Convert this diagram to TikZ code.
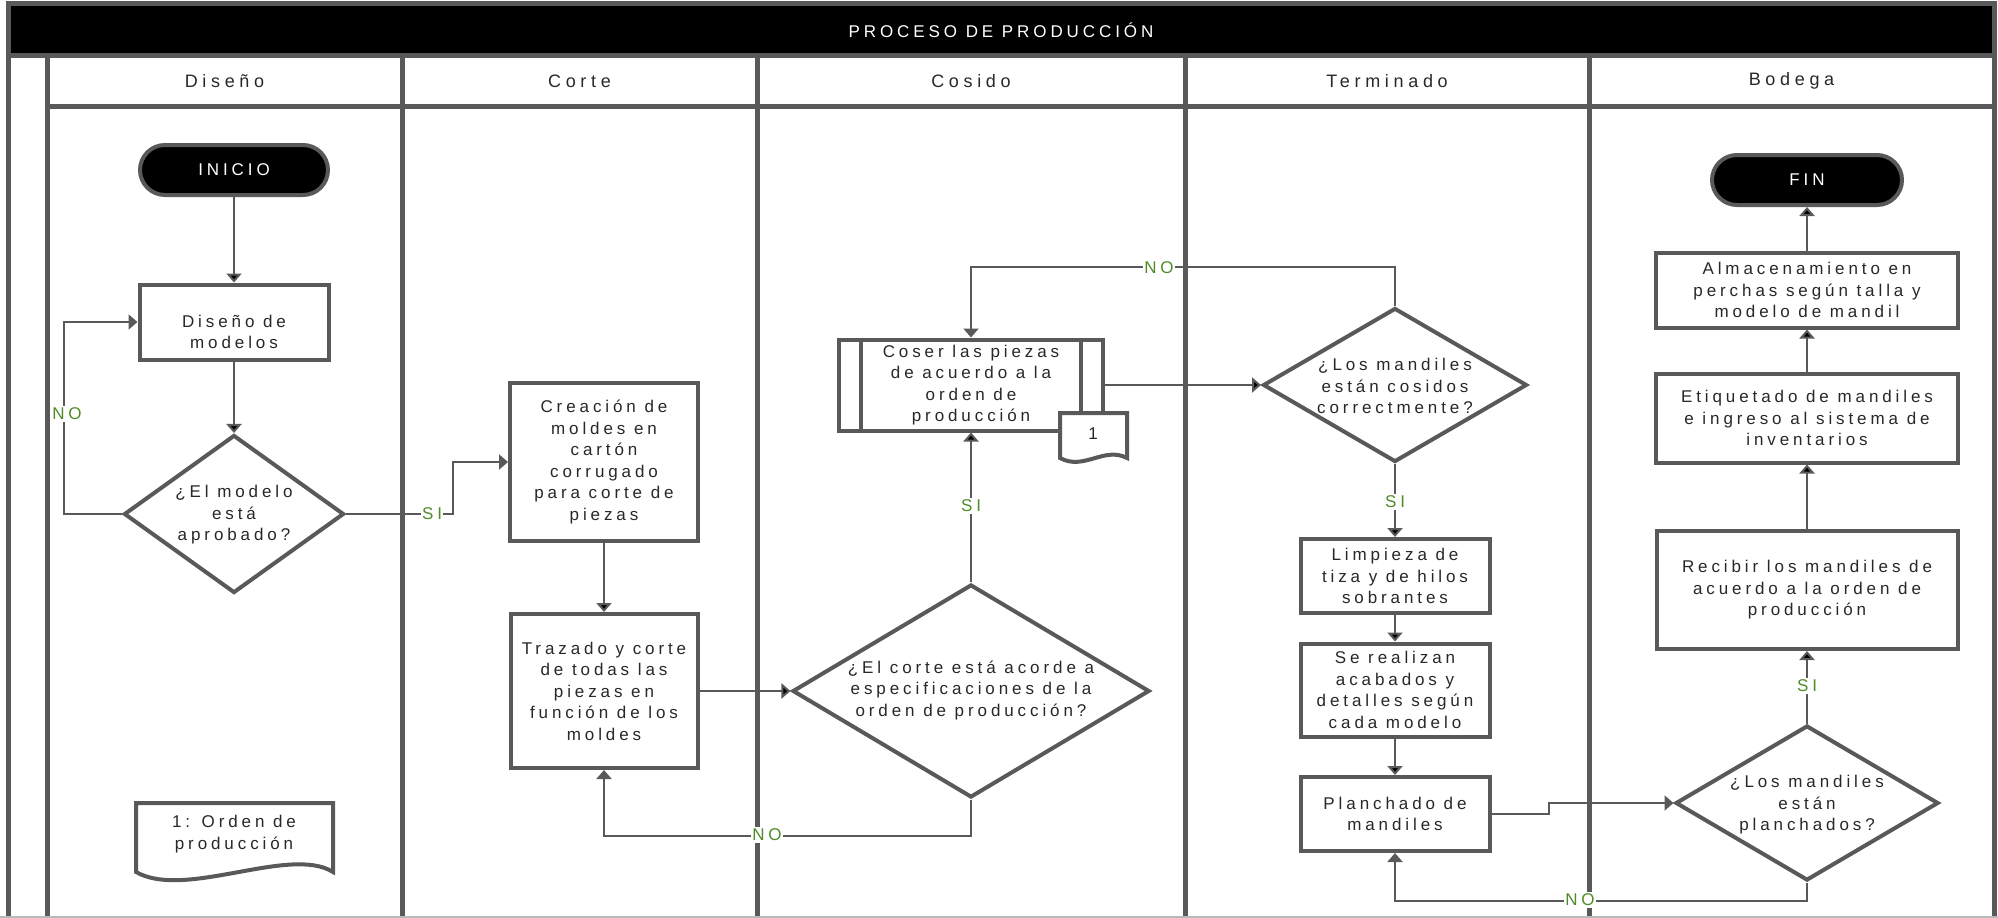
\documentclass[tikz,border=0pt]{standalone}
\usepackage{fontspec}
\setmainfont{Liberation Sans}
\newfontfamily\spacedfont{Liberation Sans}[LetterSpace=23]
\newfontfamily\headfont{Liberation Sans}[LetterSpace=26]
\usepackage{tikz}
\usetikzlibrary{
        arrows.meta,
        positioning,
        shapes,
        shapes.geometric
    }
\definecolor{linegray}{RGB}{89,89,89}
\definecolor{textgray}{RGB}{40,40,40}
\definecolor{sigreen}{RGB}{78,140,38}
\newcommand{\boxfont}{\spacedfont\fontsize{17}{21.5}\selectfont}
\newcommand{\lanefont}{\headfont\fontsize{18}{22}\selectfont}
\tikzset{>={Triangle[length=9pt,width=15pt]},node distance=2cm}
\tikzset{
    lanerule/.style={draw=linegray,line width=5pt},
    proc/.style={rectangle,draw=linegray,line width=4pt,fill=white,
        text=textgray,font=\boxfont,align=center,inner sep=2pt},
    terminal/.style={rectangle,rounded corners=25pt,draw=linegray,line width=4pt,
        fill=black,text=white,font=\boxfont,minimum width=188pt,minimum height=50pt},
    decision/.style={diamond,draw=linegray,line width=4pt,fill=white,inner sep=0pt},
    docshape/.style={draw=linegray,line width=4pt,fill=white},
    qtext/.style={text=textgray,font=\boxfont,align=center,inner sep=0pt},
    flow/.style={draw=linegray,line width=2pt,->},
    answer/.style={fill=white,text=sigreen,font=\boxfont,inner sep=1.5pt},
    lanehead/.style={text=textgray,font=\lanefont}
}

\begin{document}
\begin{tikzpicture}[x=1pt,y=-1pt]
    \useasboundingbox (0,0) rectangle (1998,918);
    \draw[lanerule,fill=black] (8,3) rectangle (1994,55);
    \node[text=white,font=\boxfont] (titulo) at (1001,30) {PROCESO DE PRODUCCIÓN};
    \foreach \xl in {8,47,402,757,1185,1589,1994}
        \draw[lanerule] (\xl,55) -- (\xl,918);
    \draw[lanerule] (47,106) -- (1994,106);
    \draw[draw=gray!55,line width=1.5pt] (0,917) -- (1998,917);
    \foreach \lane/\xc [count=\i] in {Diseño/224.5,Corte/579.5,Cosido/971,Terminado/1387,Bodega/1791.5}
        \node[lanehead] (lane\i) at (\xc,81) {\lane};

    \node[terminal] (inicio) at (234,170) {INICIO};
    \node[proc,minimum width=189pt,minimum height=75pt,text height=54pt] (disenio) at (234,322) {Diseño de\\modelos};
    \node[decision,minimum width=220pt,minimum height=158pt] (aprobado) at (234,514) {};
    \node[qtext] (aprobadotxt) at (234,515) {¿El modelo\\está\\aprobado?};
    \filldraw[docshape] (136,872) -- (136,803) -- (333,803) -- (333,872)
        .. controls (290,845) and (185,900) .. (136,872) -- cycle;
    \node[qtext] (orden) at (234,834) {1: Orden de\\producción};

    \node[proc,minimum width=188pt,minimum height=158pt] (creacion) at (604,462)
        {Creación de\\moldes en\\cartón\\corrugado\\para corte de\\piezas};
    \node[proc,minimum width=187pt,minimum height=154pt] (trazado) at (604,691)
        {Trazado y corte\\de todas las\\piezas en\\función de los\\moldes};

    \node[proc,minimum width=264pt,minimum height=91pt] (coser) at (971,385)
        {Coser las piezas\\de acuerdo a la\\orden de\\producción};
    \draw[draw=linegray,line width=4pt] ([xshift=24pt]coser.north west) -- ([xshift=24pt]coser.south west);
    \draw[draw=linegray,line width=4pt] ([xshift=-24pt]coser.north east) -- ([xshift=-24pt]coser.south east);
    \filldraw[docshape] (1060,458) -- (1060,413) -- (1127,413) -- (1127,458)
        .. controls (1104,446) and (1084,471) .. (1060,458) -- cycle;
    \node[qtext] (docuno) at (1093,434) {1};
    \node[decision,minimum width=357pt,minimum height=213pt] (corteok) at (971,691) {};
    \node[qtext] (corteoktxt) at (971,690) {¿El corte está acorde a\\especificaciones de la\\orden de producción?};

    \node[decision,minimum width=264pt,minimum height=154pt] (cosidook) at (1395,385) {};
    \node[qtext] (cosidooktxt) at (1395,386) {¿Los mandiles\\están cosidos\\correctmente?};
    \node[proc,minimum width=189pt,minimum height=74pt] (limpieza) at (1395,576) {Limpieza de\\tiza y de hilos\\sobrantes};
    \node[proc,minimum width=189pt,minimum height=93pt] (acabados) at (1395,690) {Se realizan\\acabados y\\detalles según\\cada modelo};
    \node[proc,minimum width=189pt,minimum height=74pt] (planchado) at (1395,814) {Planchado de\\mandiles};

    \node[terminal,minimum width=190pt] (fin) at (1807,180) {FIN};
    \node[proc,minimum width=302pt,minimum height=75pt] (almacen) at (1807,290)
        {Almacenamiento en\\perchas según talla y\\modelo de mandil};
    \node[proc,minimum width=302pt,minimum height=89pt] (etiquetado) at (1807,418)
        {Etiquetado de mandiles\\e ingreso al sistema de\\inventarios};
    \node[proc,minimum width=301pt,minimum height=118pt] (recibir) at (1807,590)
        {Recibir los mandiles de\\acuerdo a la orden de\\producción};
    \node[decision,minimum width=263pt,minimum height=155pt] (planchok) at (1807,803) {};
    \node[qtext] (planchoktxt) at (1807,805) {¿Los mandiles\\están\\planchados?};

    \path[flow]
        (inicio) edge (disenio)
        (disenio) edge (aprobado)
        (creacion) edge (trazado)
        (trazado) edge (corteok)
        (corteok) edge (coser)
        (coser) edge (cosidook)
        (cosidook) edge (limpieza)
        (limpieza) edge (acabados)
        (acabados) edge (planchado)
        (planchok) edge (recibir)
        (recibir) edge (etiquetado)
        (etiquetado) edge (almacen)
        (almacen) edge (fin);
    \draw[flow] (aprobado.west) -- ++(-58,0) |- (disenio.west);
    \draw[flow] (aprobado.east) -- ++(107,0) |- (creacion.west);
    \draw[flow] (corteok.south) -- ++(0,36) -| (trazado.south);
    \draw[flow] (cosidook.north) -- ++(0,-39) -| (coser.north);
    \draw[flow] (planchado.east) -- ++(57,0) |- (planchok.west);
    \draw[flow] (planchok.south) -- ++(0,18) -| (planchado.south);

    \node[answer] (no1) at (67,414) {NO};
    \node[answer] (si1) at (432,514) {SI};
    \node[answer] (no2) at (767,835) {NO};
    \node[answer] (si2) at (971,506) {SI};
    \node[answer] (no3) at (1159,268) {NO};
    \node[answer] (si3) at (1395,502) {SI};
    \node[answer] (no4) at (1580,900) {NO};
    \node[answer] (si4) at (1807,686) {SI};
\end{tikzpicture}
\end{document}
